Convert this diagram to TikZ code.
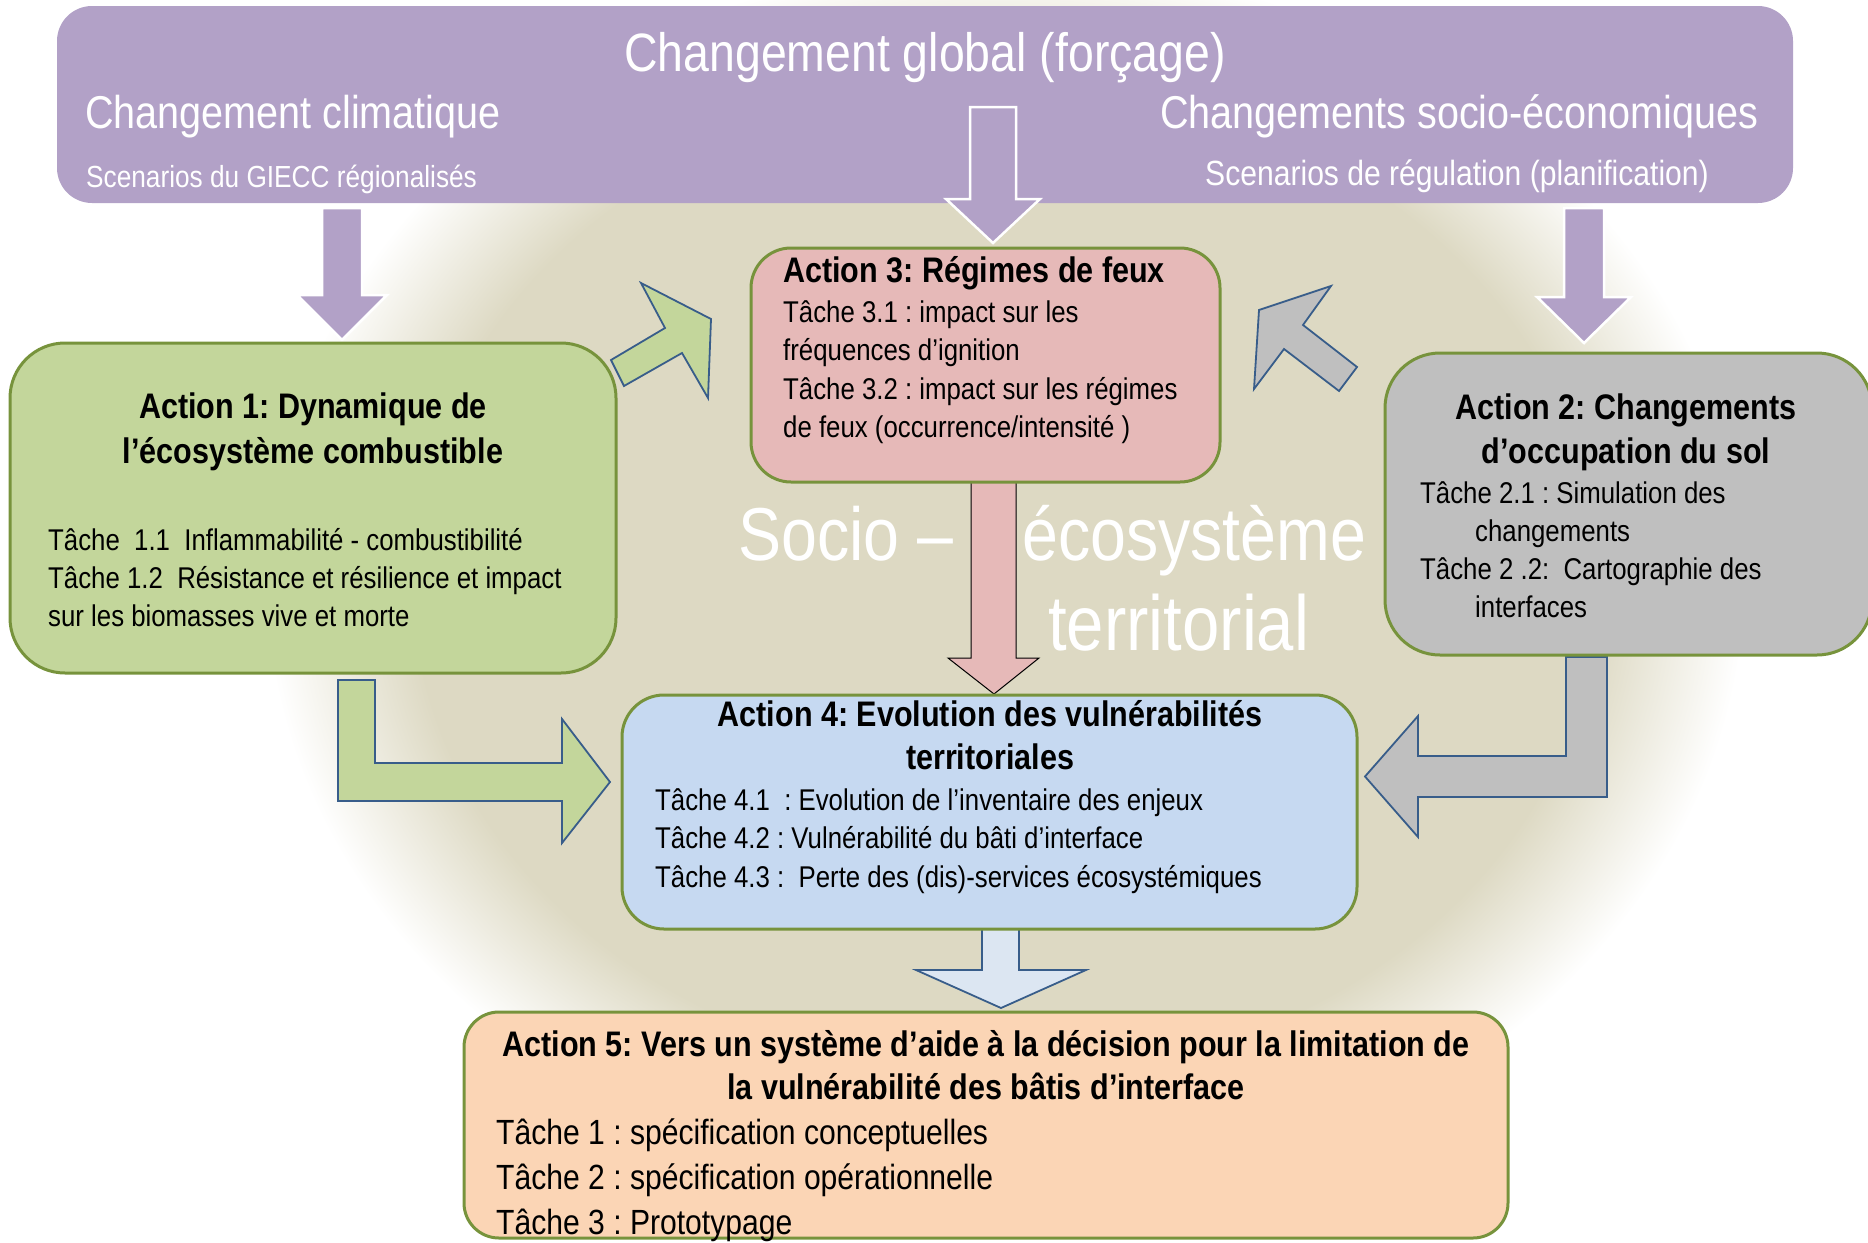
\documentclass[tikz,border=0pt]{standalone}
\usepackage{fontspec}
\setmainfont{Liberation Sans}[FakeStretch=0.86]
\usepackage{tikz}
\usetikzlibrary{positioning}

\definecolor{fondbeige}{HTML}{DDD9C3}
\definecolor{forcage}{HTML}{B2A1C7}
\definecolor{vert}{HTML}{C3D69B}
\definecolor{rose}{HTML}{E6B9B8}
\definecolor{gris}{HTML}{BFBFBF}
\definecolor{bleu}{HTML}{C6D9F1}
\definecolor{peche}{HTML}{FBD5B5}
\definecolor{bleuclair}{HTML}{DCE6F2}
\definecolor{trait}{HTML}{385D8A}
\definecolor{olive}{HTML}{77933C}
\pgfdeclareradialshading{fondsocio}{\pgfpoint{0bp}{0bp}}{color(0bp)=(fondbeige); color(20bp)=(fondbeige); color(25bp)=(white); color(50bp)=(white)}

\tikzset{
  boite/.style={draw=olive, line width=3pt, inner sep=0pt},
  titre/.style={font=\bfseries\fontsize{35.5}{43}\selectfont, inner sep=0pt},
  tache/.style={font=\fontsize{30}{38}\selectfont, inner sep=0pt},
  blanc/.style={text=white, inner sep=0pt},
  fleche/.style={draw=trait, line width=1.8pt, line join=miter},
  violet/.style={fill=forcage, draw=white, line width=2.5pt, line join=miter}
}

\begin{document}
\frenchspacing
\begin{tikzpicture}[x=1pt,y=-1pt]
\useasboundingbox (0,0) rectangle (1868,1242);
\clip (0,0) rectangle (1868,1242);
% fond socio-ecosysteme
\shade[shading=fondsocio] (1005,580) ellipse [x radius=740, y radius=620];

% fleches
\draw[violet] (322,208)--(362,208)--(362,295)--(387,295)--(342,340)--(297,295)--(322,295)--cycle;
\draw[violet] (1564,208)--(1604,208)--(1604,297)--(1631,297)--(1584,343)--(1537,297)--(1564,297)--cycle;
\draw[fleche, fill=vert] (611,360)--(665,328)--(641,283)--(711,319)--(708,398)--(682,353)--(624,386)--cycle;
\draw[fleche, fill=gris] (1357,367)--(1303,325)--(1331,286)--(1259,310)--(1254,389)--(1284,349)--(1339,391)--cycle;
\draw[black, line width=1pt, fill=rose] (971,482)--(1016,482)--(1016,658)--(1039,658)--(994,694)--(948,658)--(971,658)--cycle;
\draw[fleche, fill=vert] (338,680)--(375,680)--(375,763)--(562,763)--(562,719)--(610,782)--(562,843)--(562,801)--(338,801)--cycle;
\draw[fleche, fill=gris] (1607,657)--(1607,797)--(1418,797)--(1418,837)--(1365,776.5)--(1418,716)--(1418,756)--(1566,756)--(1566,657)--cycle;
\draw[fleche, fill=bleuclair] (982,929)--(1019,929)--(1019,970)--(1086,970)--(1001,1008)--(916,970)--(982,970)--cycle;

% boites
\node[fill=forcage, rounded corners=35pt, inner sep=0pt, minimum width=1736pt, minimum height=197pt] (F) at (925,104.5) {};
\node[boite, fill=vert, rounded corners=55pt, minimum width=606pt, minimum height=330pt] (A1) at (313,508) {};
\node[boite, fill=gris, rounded corners=55pt, minimum width=487pt, minimum height=302pt] (A2) at (1628.5,504) {};
\node[boite, fill=rose, rounded corners=40pt, minimum width=469pt, minimum height=234pt] (A3) at (985.5,365) {};
\node[boite, fill=bleu, rounded corners=42pt, minimum width=735pt, minimum height=234pt] (A4) at (989.5,812) {};
\node[boite, fill=peche, rounded corners=35pt, minimum width=1044pt, minimum height=226pt] (A5) at (986,1125) {};
\draw[violet] (970,107)--(1016,107)--(1016,199)--(1040,199)--(993,243)--(946,199)--(970,199)--cycle;

% forcage
\node[blanc, font=\fontsize{54}{60}\selectfont, anchor=base] (F0) at (925,71) {Changement global (forçage)};
\node[blanc, font=\fontsize{46}{52}\selectfont, anchor=base west] (F1) at (85,128) {Changement climatique};
\node[blanc, font=\fontsize{30.5}{36}\selectfont, anchor=base west] (F2) at (86,187) {Scenarios du GIECC régionalisés};
\node[blanc, font=\fontsize{46}{52}\selectfont, anchor=base west] (F3) at (1160,128) {Changements socio-économiques};
\node[blanc, font=\fontsize{35}{40}\selectfont, anchor=base west] (F4) at (1205,185) {Scenarios de régulation (planification)};

% socio-ecosysteme
\node[blanc, font=\fontsize{75}{80}\selectfont, anchor=base west] (S1) at (738,560) {Socio –};
\node[blanc, font=\fontsize{75}{80}\selectfont, anchor=base west] (S2) at (1022,560) {écosystème};
\node[blanc, font=\fontsize{78}{80}\selectfont, anchor=base west] (S3) at (1048,650) {territorial};

% action 1
\foreach \l [count=\i from 0] in {Action 1: Dynamique de, l’écosystème combustible}
  \node[titre, anchor=base] (A1h\i) at (313,418+45*\i) {\l};
\foreach \l [count=\i from 0] in {Tâche~ 1.1~ Inflammabilité - combustibilité, Tâche 1.2~ Résistance et résilience et impact, sur les biomasses vive et morte}
  \node[tache, anchor=base west] (A1t\i) at (48,550+38*\i) {\l};

% action 2
\foreach \l [count=\i from 0] in {Action 2: Changements, d’occupation du sol}
  \node[titre, anchor=base] (A2h\i) at (1626,419+44*\i) {\l};
\foreach \l [count=\i from 0] in {Tâche 2.1 : Simulation des, \hspace*{55pt}changements, Tâche 2 .2:~ Cartographie des, \hspace*{55pt}interfaces}
  \node[tache, anchor=base west] (A2t\i) at (1420,503+38.3*\i) {\l};

% action 3
\node[titre, anchor=base west] (A3h0) at (783,282) {Action 3: Régimes de feux};
\foreach \l [count=\i from 0] in {Tâche 3.1 : impact sur les, fréquences d’ignition, Tâche 3.2 : impact sur les régimes, {de feux (occurrence/intensité )}}
  \node[tache, anchor=base west] (A3t\i) at (783,322+38.5*\i) {\l};

% action 4
\foreach \l [count=\i from 0] in {Action 4: Evolution des vulnérabilités, territoriales}
  \node[titre, anchor=base] (A4h\i) at (990,726+43*\i) {\l};
\foreach \l [count=\i from 0] in {Tâche 4.1~ : Evolution de l’inventaire des enjeux, Tâche 4.2 : Vulnérabilité du bâti d’interface, Tâche 4.3 :~ Perte des (dis)-services écosystémiques}
  \node[tache, anchor=base west] (A4t\i) at (655,810+38.5*\i) {\l};

% action 5
\foreach \l [count=\i from 0] in {Action 5: Vers un système d’aide à la décision pour la limitation de, la vulnérabilité des bâtis d’interface}
  \node[titre, anchor=base] (A5h\i) at (986,1056+43*\i) {\l};
\foreach \l [count=\i from 0] in {Tâche 1 : spécification conceptuelles, Tâche 2 : spécification opérationnelle, Tâche 3 : Prototypage}
  \node[tache, font=\fontsize{35}{45}\selectfont, anchor=base west] (A5t\i) at (496,1144+45*\i) {\l};
\end{tikzpicture}
\end{document}
